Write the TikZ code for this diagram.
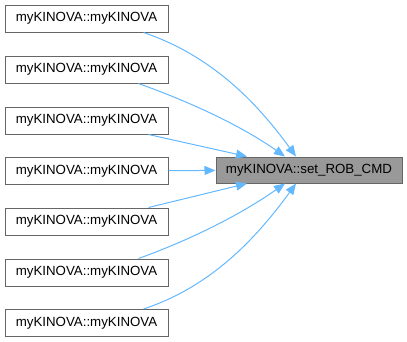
\documentclass[tikz,border=0pt]{standalone}
\usepackage{fontspec}
\setmainfont{Liberation Sans}
\usetikzlibrary{arrows.meta}
\begin{document}
\begin{tikzpicture}[x=1pt,y=-1pt,
  caller/.style={draw=black!60,fill=white,line width=1pt,minimum width=163pt,minimum height=27pt,inner sep=0pt,font=\fontsize{13.3}{16}\selectfont},
  callee/.style={draw=black!60,fill=black!40,line width=1pt,minimum width=186pt,minimum height=26pt,inner sep=0pt,font=\fontsize{13.3}{16}\selectfont},
  link/.style={draw={rgb,255:red,99;green,184;blue,255},line width=1pt,-{Stealth[length=11pt,width=9pt,inset=0pt]}}]
\useasboundingbox (0,0) rectangle (407,341);
\node[callee] (t) at (309,170) {myKINOVA::set\_ROB\_CMD};
\foreach \i/\y in {1/18.5,2/69.5,3/120.5,4/171,5/221.5,6/272.5,7/323}{
  \node[caller] (c\i) at (86.5,\y) {myKINOVA::myKINOVA};
}
\coordinate (e1) at (t.north west -| 296,0);
\coordinate (e2) at (t.north west -| 285,0);
\coordinate (e3) at (t.north west -| 247,0);
\coordinate (e5) at (t.south west -| 247,0);
\coordinate (e6) at (t.south west -| 285,0);
\coordinate (e7) at (t.south west -| 296,0);
\draw[link] (c1.south east) ++(-25,0) .. controls (210,55) and (255,100) .. (e1);
\draw[link] (c2.south east) ++(-30,0) .. controls (190,102) and (240,125) .. (e2);
\draw[link] (c3.south east) ++(-20,0) -- (e3);
\draw[link] (c4) -- (t);
\draw[link] (c5.north east) ++(-20,0) -- (e5);
\draw[link] (c6.north east) ++(-30,0) .. controls (190,240) and (240,215) .. (e6);
\draw[link] (c7.north east) ++(-25,0) .. controls (210,287) and (255,240) .. (e7);
\end{tikzpicture}
\end{document}
